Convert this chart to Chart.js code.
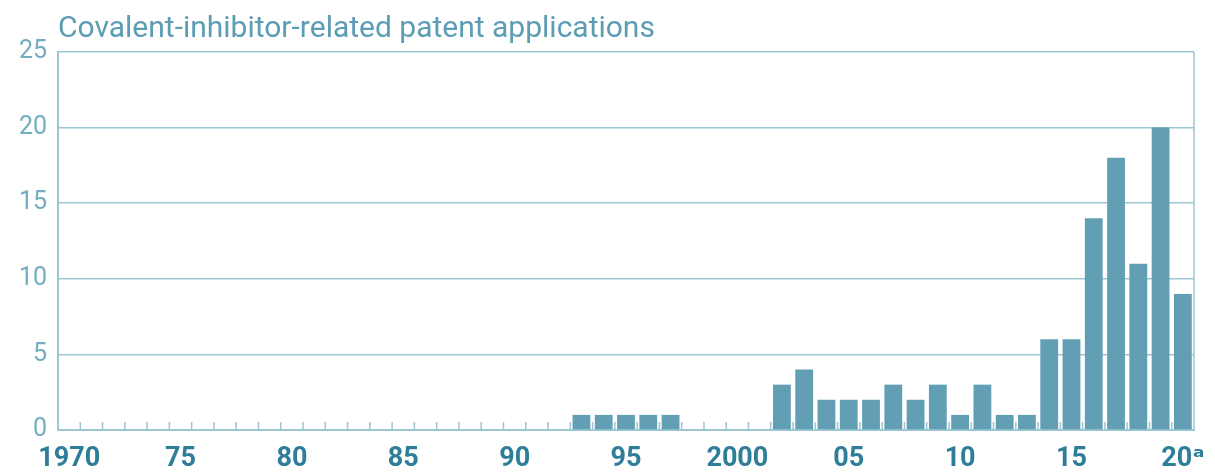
<!DOCTYPE html>
<html>
<head>
<meta charset="utf-8">
<script src="https://cdn.jsdelivr.net/npm/chart.js@4/dist/chart.umd.min.js"></script>
<style>
  html, body { margin: 0; padding: 0; background: #ffffff; }
  #wrap { width: 1215px; height: 472px; position: relative; }
</style>
</head>
<body>
<div id="wrap"><canvas id="c" width="1215" height="472"></canvas></div>
<script>
const titleText = 'Covalent-inhibitor-related patent applications';

const years = [
  1970, 1971, 1972, 1973, 1974, 1975, 1976, 1977, 1978, 1979,
  1980, 1981, 1982, 1983, 1984, 1985, 1986, 1987, 1988, 1989,
  1990, 1991, 1992, 1993, 1994, 1995, 1996, 1997, 1998, 1999,
  2000, 2001, 2002, 2003, 2004, 2005, 2006, 2007, 2008, 2009,
  2010, 2011, 2012, 2013, 2014, 2015, 2016, 2017, 2018, 2019,
  2020
];

const applications = [
  0, 0, 0, 0, 0, 0, 0, 0, 0, 0,
  0, 0, 0, 0, 0, 0, 0, 0, 0, 0,
  0, 0, 0, 1, 1, 1, 1, 1, 0, 0,
  0, 0, 3, 4, 2, 2, 2, 3, 2, 3,
  1, 3, 1, 1, 6, 6, 14, 18, 11, 20,
  9
];

const labeledYears = [1970, 1975, 1980, 1985, 1990, 1995, 2000, 2005, 2010, 2015, 2020];
const xTickLabels = ['1970', '75', '80', '85', '90', '95', '2000', '05', '10', '15', '20\u1D43'];

const yTicks = [0, 5, 10, 15, 20, 25];

const barColor = '#639fb4';
const gridColor = '#9cc6d4';
const yLabelColor = '#72adc0';
const xLabelColor = '#2f7e99';
const titleColor = '#5c9db3';

// frame on the right and short upward tick marks at category boundaries
const frameAndTicks = {
  id: 'frameAndTicks',
  beforeDatasetsDraw(chart) {
    const x = chart.scales.x;
    const a = chart.chartArea;
    const ctx = chart.ctx;
    ctx.save();
    ctx.strokeStyle = gridColor;
    ctx.lineWidth = 1.5;
    ctx.beginPath();
    for (let i = 1; i < years.length; i++) {
      const px = (x.getPixelForValue(i - 1) + x.getPixelForValue(i)) / 2;
      ctx.moveTo(px, a.bottom);
      ctx.lineTo(px, a.bottom - 8);
    }
    ctx.stroke();
    ctx.restore();
  },
  afterDraw(chart) {
    const a = chart.chartArea;
    const ctx = chart.ctx;
    ctx.save();
    ctx.strokeStyle = gridColor;
    ctx.lineWidth = 1.5;
    ctx.beginPath();
    ctx.moveTo(a.right, a.top);
    ctx.lineTo(a.right, a.bottom);
    ctx.stroke();
    ctx.restore();
  }
};

new Chart(document.getElementById('c'), {
  type: 'bar',
  data: {
    labels: years,
    datasets: [{
      data: applications,
      backgroundColor: barColor,
      borderWidth: 0,
      barPercentage: 0.8,
      categoryPercentage: 1.0
    }]
  },
  options: {
    responsive: false,
    animation: false,
    layout: { padding: { left: 0, right: 21, top: 0, bottom: 0 } },
    plugins: {
      legend: { display: false },
      tooltip: { enabled: false },
      title: {
        display: true,
        text: titleText,
        align: 'start',
        fullSize: false,
        color: titleColor,
        font: { family: 'Roboto', size: 30, weight: 'normal', lineHeight: 1.2 },
        padding: { top: 11, bottom: 5 }
      }
    },
    scales: {
      x: {
        grid: {
          display: false,
          drawOnChartArea: false,
          drawTicks: false
        },
        border: { display: true, color: gridColor, width: 2 },
        ticks: {
          autoSkip: false,
          maxRotation: 0,
          minRotation: 0,
          padding: 13,
          color: xLabelColor,
          font: { family: 'Roboto, "DejaVu Sans", sans-serif', size: 27, weight: 'bold', lineHeight: 1.2 },
          callback: function (value, index) {
            const yr = years[index];
            const k = labeledYears.indexOf(yr);
            return k >= 0 ? xTickLabels[k] : '';
          }
        },
        afterFit: function (scale) {
          scale.height = 42;
          scale.paddingLeft = 0;
          scale.paddingRight = 0;
        }
      },
      y: {
        min: 0,
        max: 25,
        afterBuildTicks: function (scale) {
          scale.ticks = yTicks.map(v => ({ value: v }));
        },
        grid: {
          color: gridColor,
          lineWidth: 1.5,
          drawTicks: false
        },
        border: { display: true, color: gridColor, width: 2 },
        ticks: {
          padding: 11,
          color: yLabelColor,
          font: { family: 'Roboto', size: 25, weight: 'normal' }
        },
        afterFit: function (scale) { scale.width = 58; }
      }
    }
  },
  plugins: [frameAndTicks]
});
</script>
</body>
</html>
